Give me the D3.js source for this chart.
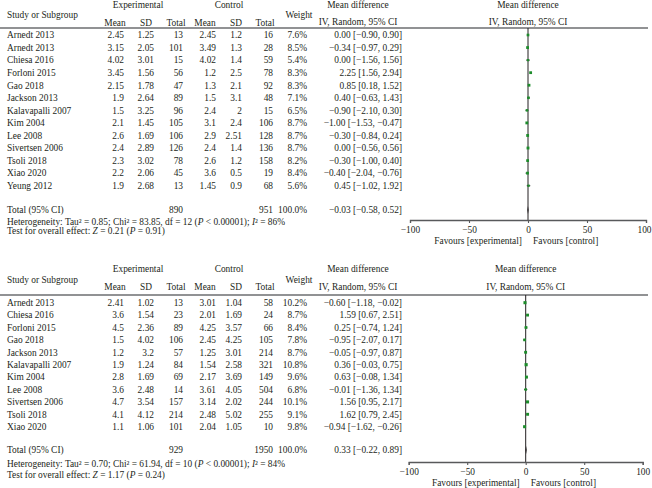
<!DOCTYPE html>
<html><head><meta charset="utf-8">
<script src="https://cdn.jsdelivr.net/npm/d3@7"></script>
<style>
body{margin:0;background:#fff;}
svg{display:block;}
text{font-family:"Liberation Serif","Times New Roman",serif;font-size:9.4px;fill:#231f20;}
</style></head><body>
<script>
// ---------- data: panel 1 ----------
const studies1 = ["Arnedt 2013","Arnedt 2013","Chiesa 2016","Forloni 2015","Gao 2018","Jackson 2013","Kalavapalli 2007","Kim 2004","Lee 2008","Sivertsen 2006","Tsoli 2018","Xiao 2020","Yeung 2012"];
const expMean1 = ["2.45","3.15","4.02","3.45","2.15","1.9","1.5","2.1","2.6","2.4","2.3","2.2","1.9"];
const expSD1 = ["1.25","2.05","3.01","1.56","1.78","2.64","3.25","1.45","1.69","2.89","3.02","2.06","2.68"];
const expN1 = [13,101,15,56,47,89,96,105,106,126,78,45,13];
const ctlMean1 = ["2.45","3.49","4.02","1.2","1.3","1.5","2.4","3.1","2.9","2.4","2.6","3.6","1.45"];
const ctlSD1 = ["1.2","1.3","1.4","2.5","2.1","3.1","2","2.4","2.51","1.4","1.2","0.5","0.9"];
const ctlN1 = [16,28,59,78,92,48,15,106,128,136,158,19,68];
const weight1 = [7.6,8.5,5.4,8.3,8.3,7.1,6.5,8.7,8.7,8.7,8.2,8.4,5.6];
const md1 = [0.00,-0.34,0.00,2.25,0.85,0.40,-0.90,-1.00,-0.30,0.00,-0.30,-0.40,0.45];
const lo1 = [-0.90,-0.97,-1.56,1.56,0.18,-0.63,-2.10,-1.53,-0.84,-0.56,-1.00,-2.04,-1.02];
const hi1 = [0.90,0.29,1.56,2.94,1.52,1.43,0.30,-0.47,0.24,0.56,0.40,-0.76,1.92];
const total1 = {expN:890, ctlN:951, md:-0.03, lo:-0.58, hi:0.52};
const het1 = {tau:"0.85", chi:"83.85", df:12, p:"0.00001", i2:"86", z:"0.21", pz:"0.91"};

// ---------- data: panel 2 ----------
const studies2 = ["Arnedt 2013","Chiesa 2016","Forloni 2015","Gao 2018","Jackson 2013","Kalavapalli 2007","Kim 2004","Lee 2008","Sivertsen 2006","Tsoli 2018","Xiao 2020"];
const expMean2 = ["2.41","3.6","4.5","1.5","1.2","1.9","2.8","3.6","4.7","4.1","1.1"];
const expSD2 = ["1.02","1.54","2.36","4.02","3.2","1.24","1.69","2.48","3.54","4.12","1.06"];
const expN2 = [13,23,89,106,57,84,69,14,157,214,101];
const ctlMean2 = ["3.01","2.01","4.25","2.45","1.25","1.54","2.17","3.61","3.14","2.48","2.04"];
const ctlSD2 = ["1.04","1.69","3.57","4.25","3.01","2.58","3.69","4.05","2.02","5.02","1.05"];
const ctlN2 = [58,24,66,105,214,321,149,504,244,255,10];
const weight2 = [10.2,8.7,8.4,7.8,8.7,10.8,9.6,6.8,10.1,9.1,9.8];
const md2 = [-0.60,1.59,0.25,-0.95,-0.05,0.36,0.63,-0.01,1.56,1.62,-0.94];
const lo2 = [-1.18,0.67,-0.74,-2.07,-0.97,-0.03,-0.08,-1.36,0.95,0.79,-1.62];
const hi2 = [-0.02,2.51,1.24,0.17,0.87,0.75,1.34,1.34,2.17,2.45,-0.26];
const total2 = {expN:929, ctlN:1950, md:0.33, lo:-0.22, hi:0.89};
const het2 = {tau:"0.70", chi:"61.94", df:10, p:"0.00001", i2:"84", z:"1.17", pz:"0.24"};

const axisTicks = [-100,-50,0,50,100];

// ---------- drawing ----------
const W = 652, H = 488;
const svg = d3.select("body").append("svg").attr("width", W).attr("height", H);
const f2 = v => (v < 0 ? "\u2212" : "") + Math.abs(v).toFixed(2);
const ciText = (m,l,h) => `${f2(m)} [${f2(l)}, ${f2(h)}]`;

const cols = {study:7, expMean:124, expSD:154, expN:183, ctlMean:216, ctlSD:242, ctlN:273, weight:307, ci:402};

function txt(g, x, y, s, anchor){
  return g.append("text").attr("x", x).attr("y", y).attr("dy","0.35em")
    .attr("text-anchor", anchor || "start").text(s);
}

function panel(cfg){
  const g = svg.append("g");
  const hy = cfg.headerTop;
  txt(g, 138, hy, "Experimental", "middle");
  txt(g, 229, hy, "Control", "middle");
  txt(g, 358, hy, "Mean difference", "middle");
  txt(g, (cfg.x0+cfg.x1)/2, hy, "Mean difference", "middle");
  txt(g, cols.study, hy+10.5, "Study or Subgroup");
  txt(g, 299, hy+10.5, "Weight", "middle");
  const sy = hy + 18;
  [["Mean",115],["SD",146],["Total",176],["Mean",205],["SD",236],["Total",265]]
    .forEach(([s,x]) => txt(g, x, sy, s, "middle"));
  txt(g, 358, sy - 0.5, "IV, Random, 95% CI", "middle");
  txt(g, (cfg.x0+cfg.x1)/2, sy - 0.5, "IV, Random, 95% CI", "middle");
  g.append("line").attr("x1",0).attr("x2",648).attr("y1",cfg.lineY).attr("y2",cfg.lineY)
    .attr("stroke","#6d6e71").attr("stroke-width",1.3);

  const n = cfg.studies.length;
  const y = d3.scalePoint().domain(d3.range(n)).range([cfg.row0, cfg.rowN]);
  const x = d3.scaleLinear().domain([-100,100]).range([cfg.x0, cfg.x1]);
  const sz = d3.scaleSqrt().domain([0, 11]).range([0, 3.2]);

  d3.range(n).forEach(i => {
    const yy = y(i);
    txt(g, cols.study, yy, cfg.studies[i]);
    txt(g, cols.expMean, yy, cfg.expMean[i], "end");
    txt(g, cols.expSD, yy, cfg.expSD[i], "end");
    txt(g, cols.expN, yy, cfg.expN[i], "end");
    txt(g, cols.ctlMean, yy, cfg.ctlMean[i], "end");
    txt(g, cols.ctlSD, yy, cfg.ctlSD[i], "end");
    txt(g, cols.ctlN, yy, cfg.ctlN[i], "end");
    txt(g, cols.weight, yy, cfg.weight[i].toFixed(1) + "%", "end");
    txt(g, cols.ci, yy, ciText(cfg.md[i], cfg.lo[i], cfg.hi[i]), "end");
  });
  const t = cfg.total;
  txt(g, cols.study, cfg.totalY, "Total (95% CI)");
  txt(g, cols.expN, cfg.totalY, t.expN, "end");
  txt(g, cols.ctlN, cfg.totalY, t.ctlN, "end");
  txt(g, cols.weight, cfg.totalY, "100.0%", "end");
  txt(g, cols.ci, cfg.totalY, ciText(t.md, t.lo, t.hi), "end");

  const h = cfg.het;
  const ht = txt(g, cols.study, cfg.hetY, "");
  ht.append("tspan").text(`Heterogeneity: Tau\u00B2 = ${h.tau}; Chi\u00B2 = ${h.chi}, df = ${h.df} (`);
  ht.append("tspan").attr("font-style","italic").text("P");
  ht.append("tspan").text(` < ${h.p}); `);
  ht.append("tspan").attr("font-style","italic").text("I");
  ht.append("tspan").text(`\u00B2 = ${h.i2}%`);
  const tt = txt(g, cols.study, cfg.testY, "");
  tt.append("tspan").text("Test for overall effect: ");
  tt.append("tspan").attr("font-style","italic").text("Z");
  tt.append("tspan").text(` = ${h.z} (`);
  tt.append("tspan").attr("font-style","italic").text("P");
  tt.append("tspan").text(` = ${h.pz})`);

  // forest
  g.append("line").attr("x1",x(0)).attr("x2",x(0)).attr("y1",cfg.lineY).attr("y2",cfg.axisY)
    .attr("stroke","#231f20").attr("stroke-width",1);
  d3.range(n).forEach(i => {
    const yy = y(i);
    g.append("line").attr("x1",x(cfg.lo[i])).attr("x2",x(cfg.hi[i])).attr("y1",yy).attr("y2",yy)
      .attr("stroke","#231f20").attr("stroke-width",0.9);
    const s = sz(cfg.weight[i]);
    g.append("rect").attr("x",x(cfg.md[i])-s/2).attr("y",yy-s/2).attr("width",s).attr("height",s)
      .attr("fill","#1d8c2b");
  });
  const ty = cfg.totalY;
  g.append("polygon").attr("points",
    [[x(t.lo),ty],[x(t.md),ty-4],[x(t.hi),ty],[x(t.md),ty+4]].map(p=>p.join(",")).join(" "))
    .attr("fill","#231f20");

  const ax = g.append("g").attr("transform",`translate(0,${cfg.axisY})`)
    .call(d3.axisBottom(x).tickValues(axisTicks).tickSize(3).tickPadding(3)
      .tickFormat(d => d < 0 ? "\u2212" + Math.abs(d) : String(d)));
  ax.select(".domain").attr("stroke","#58595b").attr("stroke-width",1.3);
  ax.selectAll(".tick line").attr("stroke","#58595b").attr("stroke-width",1.1);
  ax.selectAll(".tick text").attr("font-family",'"Liberation Serif",serif').attr("font-size","9.4px").attr("fill","#231f20")
    .attr("dx", d => (d === 100 && cfg.x1 > 644) ? "-2" : null);
  txt(g, x(0)-6, cfg.favY, "Favours [experimental]", "end");
  txt(g, x(0)+5, cfg.favY, "Favours [control]", "start");
}

panel({studies:studies1, expMean:expMean1, expSD:expSD1, expN:expN1, ctlMean:ctlMean1, ctlSD:ctlSD1, ctlN:ctlN1,
  weight:weight1, md:md1, lo:lo1, hi:hi1, total:total1, het:het1,
  headerTop:4.5, lineY:28, row0:35, rowN:185.7, totalY:210, hetY:221.5, testY:231,
  x0:410, x1:646, axisY:220, favY:241});
panel({studies:studies2, expMean:expMean2, expSD:expSD2, expN:expN2, ctlMean:ctlMean2, ctlSD:ctlSD2, ctlN:ctlN2,
  weight:weight2, md:md2, lo:lo2, hi:hi2, total:total2, het:het2,
  headerTop:269, lineY:295, row0:302.7, rowN:426.7, totalY:450, hetY:463.3, testY:475,
  x0:408.7, x1:642.7, axisY:462, favY:483});
</script>
</body></html>
